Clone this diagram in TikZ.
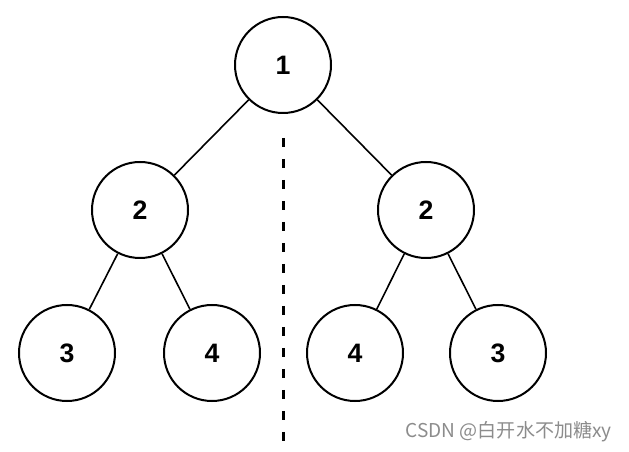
\documentclass[tikz,border=0pt]{standalone}
\usepackage{fontspec}
\setmainfont{Liberation Sans}
\newfontfamily\cjk{Noto Sans CJK SC}
\colorlet{markgray}{black!45}

\begin{document}
\begin{tikzpicture}[x=0.75pt,y=-0.75pt]
\tikzset{VertexStyle/.style ={shape=circle,draw,line width=1.5pt,minimum size=72pt,inner sep=0pt,font=\fontsize{20}{24}\selectfont\bfseries}}
\tikzset{EdgeStyle/.style ={line width=1.2pt}}
\useasboundingbox (0,0) rectangle (629,452);
\node[VertexStyle] (A) at (283,65) {1};
\node[VertexStyle] (B) at (140,210) {2};
\node[VertexStyle] (C) at (426,210) {2};
\node[VertexStyle] (D) at (67,353) {3};
\node[VertexStyle] (E) at (212,353) {4};
\node[VertexStyle] (F) at (355,353) {4};
\node[VertexStyle] (G) at (498,353) {3};
\draw[EdgeStyle] (A) -- (B);
\draw[EdgeStyle] (A) -- (C);
\draw[EdgeStyle] (B) -- (D);
\draw[EdgeStyle] (B) -- (E);
\draw[EdgeStyle] (C) -- (F);
\draw[EdgeStyle] (C) -- (G);
% mirror line
\coordinate (top) at (283,138);
\coordinate (bot) at (283,452);
\draw[line width=2.25pt,dash pattern=on 6.75pt off 9pt] (top) -- (bot);
\node[anchor=east,text=markgray,font=\cjk\fontsize{14.3}{16}\selectfont,inner sep=0pt] (mark) at (612,432) {CSDN @白开水不加糖xy};
\end{tikzpicture}
\end{document}
